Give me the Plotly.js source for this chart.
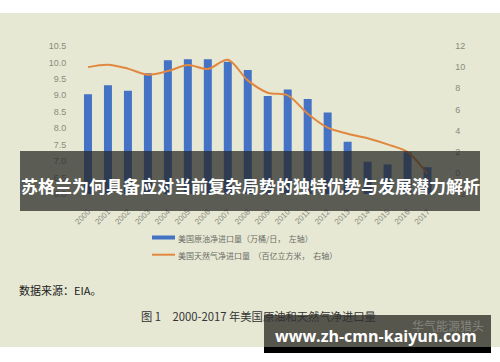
<!DOCTYPE html>
<html>
<head>
<meta charset="utf-8">
<script src="https://cdn.plot.ly/plotly-3.0.1.min.js"></script>
<style>
html,body{margin:0;padding:0;background:#fff;}
#chart{width:500px;height:362px;}
</style>
</head>
<body>
<div id="chart"></div>
<script>
// ---- data ----
const years = ['2000','2001','2002','2003','2004','2005','2006','2007','2008','2009','2010','2011','2012','2013','2014','2015','2016','2017'];
const oilImports = [9.03, 9.31, 9.14, 9.67, 10.07, 10.10, 10.10, 10.02, 9.77, 8.98, 9.18, 8.89, 8.48, 7.59, 6.98, 6.90, 7.27, 6.81];
const gasImports = [10.0, 10.23, 9.86, 9.29, 9.63, 10.2, 9.82, 10.7, 8.75, 7.58, 7.33, 5.59, 4.27, 3.7, 3.28, 2.69, 1.96, -0.1];
const oilName = '美国原油净进口量（万桶/日，  左轴）';
const gasName = '美国天然气净进口量  （百亿立方米，  右轴）';
const leftTicks = [6.0, 6.5, 7.0, 7.5, 8.0, 8.5, 9.0, 9.5, 10.0, 10.5];
const rightTicks = [-2, 0, 2, 4, 6, 8, 10, 12];
const sourceText = '数据来源：EIA。';
const captionText = '图 1　2000-2017 年美国原油和天然气净进口量';
const watermarkText = '华气能源猎头';
const bannerText = '苏格兰为何具备应对当前复杂局势的独特优势与发展潜力解析';
const urlText = 'www.zh-cmn-kaiyun.com';

// ---- helpers (pixel -> paper) ----
const W = 500, H = 362;
const px = x => x / W;
const py = y => 1 - y / H;

const cjk = '"Noto Sans CJK SC", "Noto Sans", sans-serif';
const tickFont = {family: '"Liberation Sans", Arial, sans-serif', size: 9, color: '#8a8a80'};

const traces = [
  {
    type: 'bar', x: years, y: oilImports, name: oilName,
    marker: {color: '#4472c4'}, yaxis: 'y', xaxis: 'x', showlegend: false
  },
  {
    type: 'scatter', mode: 'lines', x: years, y: gasImports, name: gasName,
    line: {color: '#e1873f', width: 2, shape: 'spline', smoothing: 0.9},
    yaxis: 'y2', xaxis: 'x', showlegend: false
  }
];

const layout = {
  width: W, height: H,
  margin: {l: 0, r: 0, t: 0, b: 0},
  paper_bgcolor: '#ffffff',
  plot_bgcolor: 'rgba(0,0,0,0)',
  showlegend: false,
  bargap: 0.6,
  xaxis: {
    type: 'category', domain: [px(78), px(437.5)], range: [-0.5, 17.5],
    showgrid: false, zeroline: false, showline: false,
    tickangle: -45, tickfont: {family: '"Liberation Sans", Arial, sans-serif', size: 8, color: '#8a8a80'},
    ticks: 'outside', ticklen: 9, tickcolor: 'rgba(0,0,0,0)', fixedrange: true
  },
  yaxis: {
    domain: [py(194), py(46)], range: [6.0, 10.5],
    tickvals: leftTicks, tickformat: '.1f',
    showgrid: false, zeroline: false, showline: false,
    tickfont: tickFont, ticks: 'outside', ticklen: 9, tickcolor: 'rgba(0,0,0,0)', fixedrange: true
  },
  yaxis2: {
    overlaying: 'y', side: 'right', range: [-2, 12],
    tickvals: rightTicks,
    showgrid: false, zeroline: false, showline: false,
    tickfont: tickFont, ticks: 'outside', ticklen: 15, tickcolor: 'rgba(0,0,0,0)', fixedrange: true
  },
  shapes: [
    // beige background
    {type: 'rect', xref: 'paper', yref: 'paper', x0: 0, x1: 1, y0: py(347), y1: py(13),
     fillcolor: '#e6e8d3', line: {width: 0}, layer: 'below'},
    // legend keys
    {type: 'rect', xref: 'paper', yref: 'paper', x0: px(152), x1: px(175), y0: py(239.5), y1: py(235.5),
     fillcolor: '#4472c4', line: {width: 0}, layer: 'above'},
    {type: 'line', xref: 'paper', yref: 'paper', x0: px(152), x1: px(175), y0: py(254.7), y1: py(254.7),
     line: {color: '#e1873f', width: 2}, layer: 'above'},
    // title overlay banner
    {type: 'rect', xref: 'paper', yref: 'paper', x0: px(20), x1: px(480), y0: py(211), y1: py(151),
     fillcolor: 'rgba(38,38,34,0.72)', line: {width: 0}, layer: 'above'},
    // url banner
    {type: 'rect', xref: 'paper', yref: 'paper', x0: px(264), x1: px(491), y0: py(347), y1: py(315),
     fillcolor: 'rgba(45,45,40,0.78)', line: {width: 0}, layer: 'above'},
    {type: 'rect', xref: 'paper', yref: 'paper', x0: px(264), x1: px(491), y0: py(353), y1: py(347),
     fillcolor: '#000000', line: {width: 0}, layer: 'above'}
  ],
  annotations: [
    {text: oilName, xref: 'paper', yref: 'paper', x: px(176), y: py(238), xanchor: 'left', yanchor: 'middle',
     showarrow: false, font: {family: cjk, size: 8, color: '#6b6b66'}},
    {text: gasName, xref: 'paper', yref: 'paper', x: px(176), y: py(255), xanchor: 'left', yanchor: 'middle',
     showarrow: false, font: {family: cjk, size: 8, color: '#6b6b66'}},
    {text: sourceText, xref: 'paper', yref: 'paper', x: px(17), y: py(290), xanchor: 'left', yanchor: 'middle',
     showarrow: false, font: {family: cjk, size: 11, color: '#1a1a1a'}},
    {text: captionText, xref: 'paper', yref: 'paper', x: px(258), y: py(315.5), xanchor: 'center', yanchor: 'middle',
     showarrow: false, font: {family: cjk, size: 11.3, color: '#333333'}},
    {text: watermarkText, xref: 'paper', yref: 'paper', x: px(410), y: py(325), xanchor: 'left', yanchor: 'middle',
     showarrow: false, font: {family: cjk, size: 12, color: '#85857d'}},
    {text: bannerText, xref: 'paper', yref: 'paper', x: px(250), y: py(185), xanchor: 'center', yanchor: 'middle',
     showarrow: false, font: {family: cjk, size: 17, color: '#ffffff', weight: 'bold'}},
    {text: urlText, xref: 'paper', yref: 'paper', x: px(376), y: py(336), xanchor: 'center', yanchor: 'middle',
     showarrow: false, font: {family: '"Open Sans", "Noto Sans", sans-serif', size: 16, color: '#ffffff', weight: 'bold'}}
  ]
};

Plotly.newPlot('chart', traces, layout, {displayModeBar: false, staticPlot: true});
</script>
</body>
</html>
